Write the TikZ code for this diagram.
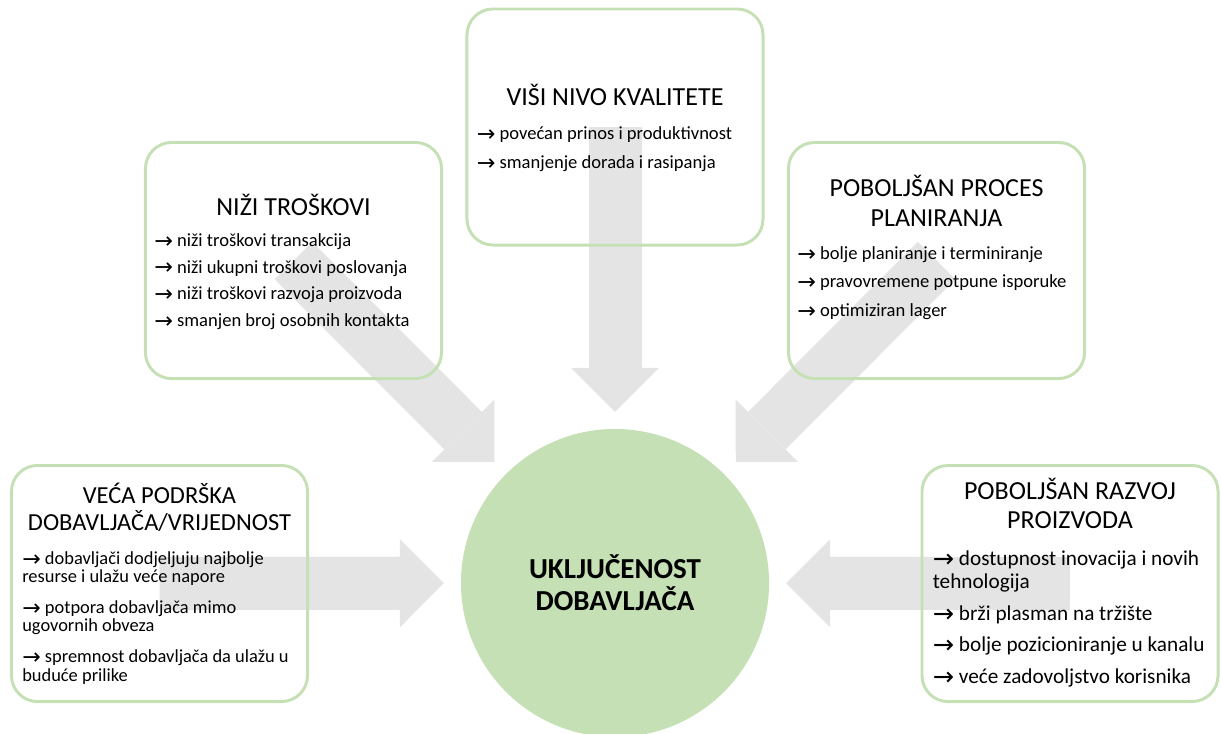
\documentclass[tikz,border=0pt]{standalone}
\usepackage{fontspec}
\setmainfont{Carlito}
\newfontfamily\arrfont[Scale=1.2]{DejaVu Sans}
\usetikzlibrary{positioning,arrows.meta,backgrounds}
\definecolor{boxgreen}{RGB}{197,224,180}
\definecolor{flowgray}{RGB}{228,228,228}
\newcommand{\arr}{\raisebox{-0.1em}{\arrfont\char"2192}\ }
\tikzstyle{box}=[draw=boxgreen, line width=2.1pt, rounded corners=0.65cm, minimum width=7.4cm, minimum height=5.9cm, inner sep=0pt]
\tikzstyle{title}=[anchor=base, align=center, inner sep=0pt, font=\fontsize{18.5}{21.3}\selectfont]
\tikzstyle{list}=[anchor=base west, align=left, inner sep=0pt, font=\fontsize{13.2}{19}\selectfont]
\tikzstyle{core}=[circle, fill=boxgreen, minimum size=7.7cm, inner sep=0pt, align=center, font=\bfseries\fontsize{20.6}{22.6}\selectfont]
\tikzstyle{flow}=[draw=flowgray, line width=1.325cm, -{Triangle[width=2.2cm,length=1.1cm,line width=0pt]}, shorten >=4.275cm]

\begin{document}
\begin{tikzpicture}[x=0.025cm,y=-0.025cm]
\useasboundingbox (0,0) rectangle (1221,733);

\node[core] (core) at (615,583) {UKLJUČENOST\\DOBAVLJAČA};

\node[box] (visi) at (615,127) {};
\node[box] (nizi) at (293.5,260.5) {};
\node[box] (plan) at (936.5,260.5) {};
\node[box] (podr) at (159.5,583.5) {};
\node[box] (razv) at (1070,583.5) {};

% grey arrows behind the boxes
\begin{scope}[on background layer]
\draw[flow] (visi.center) -- (core.center);
\draw[flow] (nizi.center) -- (core.center);
\draw[flow] (plan.center) -- (core.center);
\draw[flow] (podr.center) -- (core.center);
\draw[flow] (razv.center) -- (core.center);
\end{scope}

% texts hang from the last baseline
\node[title] (visiT) at ([yshift=-2.45cm]visi.north) {VIŠI NIVO KVALITETE};
\node[list, font=\fontsize{13.2}{20.5}\selectfont] (visiL) at ([xshift=0.275cm,yshift=-4.03cm]visi.north west)
  {\arr povećan prinos i produktivnost\\
   \arr smanjenje dorada i rasipanja};

\node[title] (niziT) at ([yshift=-1.85cm]nizi.north) {NIŽI TROŠKOVI};
\node[list] (niziL) at ([xshift=0.25cm,yshift=-4.635cm]nizi.north west)
  {\arr niži troškovi transakcija\\
   \arr niži ukupni troškovi poslovanja\\
   \arr niži troškovi razvoja proizvoda\\
   \arr smanjen broj osobnih kontakta};

\node[title] (planT) at ([yshift=-2.125cm]plan.north) {POBOLJŠAN PROCES\\PLANIRANJA};
\node[list, font=\fontsize{13.2}{20.3}\selectfont] (planL) at ([xshift=0.25cm,yshift=-4.38cm]plan.north west)
  {\arr bolje planiranje i terminiranje\\
   \arr pravovremene potpune isporuke\\
   \arr optimiziran lager};

\node[title, font=\fontsize{17.4}{19.2}\selectfont] (podrT) at ([yshift=-1.65cm]podr.north) {VEĆA PODRŠKA\\DOBAVLJAČA/VRIJEDNOST};
\node[list, font=\fontsize{13.1}{13}\selectfont] (podrL) at ([xshift=0.3cm,yshift=-5.425cm]podr.north west)
  {\arr dobavljači dodjeljuju najbolje\\
   resurse i ulažu veće napore\\[9pt]
   \arr potpora dobavljača mimo\\
   ugovornih obveza\\[9pt]
   \arr spremnost dobavljača da ulažu u\\
   buduće prilike};

\node[title, font=\fontsize{18.5}{20}\selectfont] (razvT) at ([yshift=-1.6cm]razv.north) {POBOLJŠAN RAZVOJ\\PROIZVODA};
\node[list, font=\fontsize{15.1}{17}\selectfont] (razvL) at ([xshift=0.3cm,yshift=-5.475cm]razv.north west)
  {\arr dostupnost inovacija i novih\\
   tehnologija\\[5.3pt]
   \arr brži plasman na tržište\\[5.3pt]
   \arr bolje pozicioniranje u kanalu\\[5.3pt]
   \arr veće zadovoljstvo korisnika};
\end{tikzpicture}
\end{document}
